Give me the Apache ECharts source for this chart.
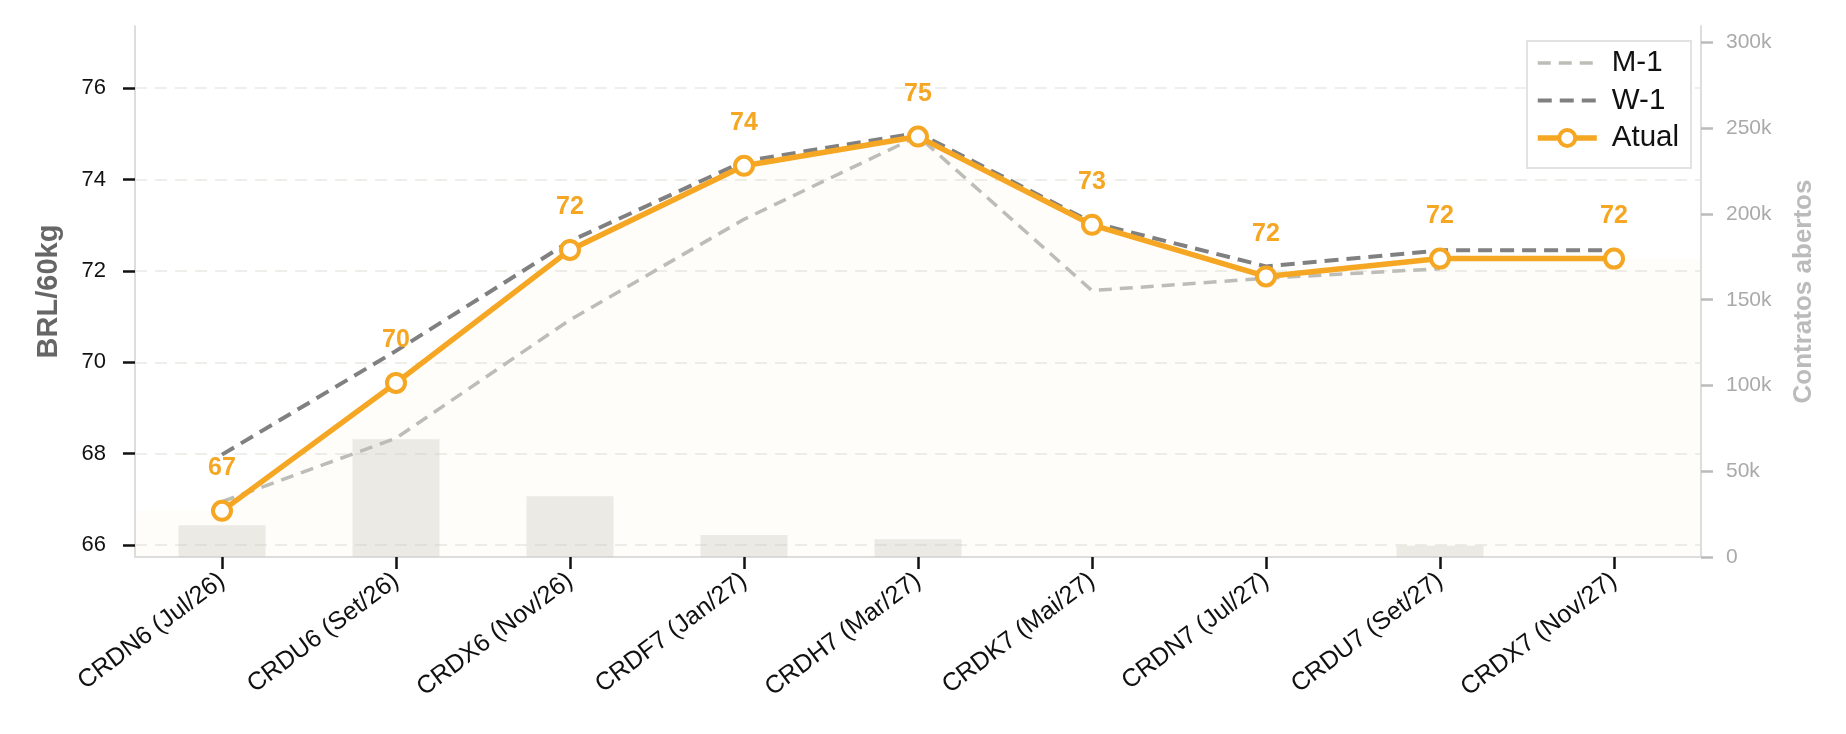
<!DOCTYPE html>
<html>
<head>
<meta charset="utf-8">
<script src="https://cdn.jsdelivr.net/npm/echarts@6/dist/echarts.min.js"></script>
<style>html,body{margin:0;padding:0;background:#fff}#c{width:1846px;height:734px}</style>
</head>
<body>
<div id="c"></div>
<script>
const categories = ['CRDN6 (Jul/26)','CRDU6 (Set/26)','CRDX6 (Nov/26)','CRDF7 (Jan/27)','CRDH7 (Mar/27)','CRDK7 (Mai/27)','CRDN7 (Jul/27)','CRDU7 (Set/27)','CRDX7 (Nov/27)'];
const atual = [66.75, 69.55, 72.46, 74.30, 74.94, 73.01, 71.88, 72.27, 72.27];
const w1 = [67.98, 70.25, 72.65, 74.40, 75.02, 73.06, 72.10, 72.45, 72.45];
const m1 = [66.95, 68.34, 70.93, 73.13, 74.95, 71.57, 71.84, 72.05, null];
const openInterest = [18500, 68600, 35400, 12800, 10300, null, null, 6600, null];
const priceTicks = [66, 68, 70, 72, 74, 76];
const oiTicks = [0, 50000, 100000, 150000, 200000, 250000, 300000];

const ORANGE = '#F5A623';
const FONT = 'Liberation Sans';

const areaData = [[-0.5, atual[0]]].concat(atual.map((v, i) => [i, v]), [[atual.length - 0.5, atual[atual.length - 1]]]);

const chart = echarts.init(document.getElementById('c'), null, {renderer: 'canvas'});
chart.setOption({
  animation: false,
  backgroundColor: '#ffffff',
  textStyle: {fontFamily: FONT},
  grid: {left: 135, right: 145, top: 26, bottom: 177, containLabel: false},
  legend: {
    right: 155, top: 41,
    orient: 'vertical',
    data: [
      {name: 'M-1', itemStyle: {opacity: 0}, lineStyle: {color: '#BDBDB8', width: 3.5, type: [13, 8]}},
      {name: 'W-1', itemStyle: {opacity: 0}, lineStyle: {color: '#808080', width: 4, type: [14, 8]}},
      {name: 'Atual', itemStyle: {color: '#ffffff', borderColor: ORANGE, borderWidth: 4}, lineStyle: {color: ORANGE, width: 5.5}}
    ],
    itemWidth: 59, itemHeight: 20, itemGap: 7.5,
    padding: [7, 12, 15, 8],
    backgroundColor: '#ffffff',
    borderColor: '#E2E2E2', borderWidth: 2, borderRadius: 0,
    textStyle: {fontSize: 29.5, color: '#111', fontFamily: FONT, padding: [0, 0, 0, 10]}
  },
  xAxis: [{
    type: 'category', data: categories, boundaryGap: true,
    axisLine: {show: true, onZero: false, lineStyle: {color: '#DDDDDD', width: 2}},
    axisTick: {show: true, alignWithLabel: true, length: 12, lineStyle: {color: '#111', width: 2.5}},
    axisLabel: {rotate: 37, fontSize: 25, color: '#111', margin: 21, interval: 0, fontFamily: FONT},
    splitLine: {show: false}
  }, {
    type: 'value', min: -0.5, max: categories.length - 0.5, show: false,
    axisLine: {onZero: false}
  }],
  yAxis: [{
    type: 'value', min: 65.74, max: 77.36, position: 'left',
    name: 'BRL/60kg', nameLocation: 'middle', nameRotate: 90, nameGap: 72,
    nameTextStyle: {fontSize: 29, fontWeight: 'bold', color: '#666666', fontFamily: FONT},
    axisLine: {show: true, onZero: false, lineStyle: {color: '#DDDDDD', width: 2}},
    axisTick: {show: true, length: 12, customValues: priceTicks, lineStyle: {color: '#111', width: 2.5}},
    axisLabel: {customValues: priceTicks, fontSize: 22, color: '#111', margin: 29, fontFamily: FONT},
    splitLine: {show: true, lineStyle: {color: '#EEEEEB', width: 2, type: [12, 8]}}
  }, {
    type: 'value', min: 0, max: 309600, position: 'right',
    name: 'Contratos abertos', nameLocation: 'middle', nameRotate: 90, nameGap: 90,
    nameTextStyle: {fontSize: 26, fontWeight: 'bold', color: '#BBBBBB', fontFamily: FONT},
    axisLine: {show: true, onZero: false, lineStyle: {color: '#DDDDDD', width: 2}},
    axisTick: {show: true, length: 12, customValues: oiTicks, lineStyle: {color: '#BBBBBB', width: 2.5}},
    axisLabel: {customValues: oiTicks, fontSize: 21, color: '#AAAAAA', margin: 25, fontFamily: FONT,
      formatter: v => v === 0 ? '0' : (v / 1000) + 'k'},
    splitLine: {show: false}
  }],
  series: [{
    name: 'area', type: 'line', xAxisIndex: 1, yAxisIndex: 0, data: areaData,
    symbol: 'none', lineStyle: {width: 0, opacity: 0}, silent: true, z: 0,
    areaStyle: {color: 'rgba(245,190,80,0.045)', origin: 'start'}
  }, {
    name: 'OI', type: 'bar', xAxisIndex: 0, yAxisIndex: 1, data: openInterest,
    barWidth: '50%', itemStyle: {color: 'rgba(205,205,198,0.4)'}, z: 1, silent: true
  }, {
    name: 'M-1', type: 'line', xAxisIndex: 0, yAxisIndex: 0, data: m1,
    symbol: 'none', z: 3,
    lineStyle: {color: '#BDBDB8', width: 3.5, type: [13, 8]},
    itemStyle: {color: '#BDBDB8'}
  }, {
    name: 'W-1', type: 'line', xAxisIndex: 0, yAxisIndex: 0, data: w1,
    symbol: 'none', z: 4,
    lineStyle: {color: '#808080', width: 4, type: [14, 8]},
    itemStyle: {color: '#808080'}
  }, {
    name: 'Atual', type: 'line', xAxisIndex: 0, yAxisIndex: 0, data: atual,
    symbol: 'circle', symbolSize: 18, z: 5,
    lineStyle: {color: ORANGE, width: 5.5},
    itemStyle: {color: '#ffffff', borderColor: ORANGE, borderWidth: 4},
    label: {show: true, position: 'top', distance: 19, color: ORANGE, fontSize: 25, fontWeight: 'bold',
      fontFamily: FONT, formatter: p => Math.round(p.value)}
  }]
});
</script>
</body>
</html>
